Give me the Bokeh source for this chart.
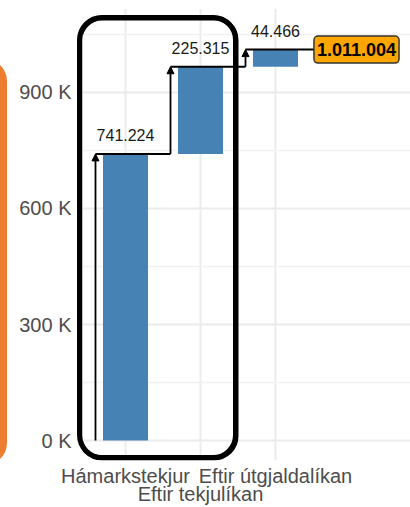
from bokeh.plotting import figure
from bokeh.models import (Range1d, FixedTicker, ColumnDataSource, Arrow, NormalHead,
                          BoxAnnotation, Label, LinearAxis, InlineStyleSheet)
from bokeh.core.properties import value
from bokeh.embed import file_html
from bokeh.resources import INLINE

# ---- data ----
categories = ["Hámarkstekjur", "Eftir tekjulíkan", "Eftir útgjaldalíkan"]
changes = [741224, 225315, 44466]
change_labels = ["741.224", "225.315", "44.466"]
total_label = "1.011.004"
y_ticks = [0, 300000, 600000, 900000]
y_tick_labels = ["0 K", "300 K", "600 K", "900 K"]
y_minor = [150000, 450000, 750000, 1050000]

FONT = "Liberation Sans"
W, H = 410, 507

xs = [1, 2, 3]
bottoms, tops = [], []
run = 0
for c in changes:
    bottoms.append(run)
    run += c
    tops.append(run)
total = tops[-1]

p = figure(width=W, height=H, output_backend="svg", toolbar_location=None,
           x_range=Range1d(0.4267, 4.8), y_range=Range1d(-51700, 1117200),
           min_border_left=82, min_border_right=0, min_border_top=8,
           min_border_bottom=47)
p.outline_line_color = None
p.background_fill_color = "white"
p.border_fill_color = "white"

# highlight frames drawn as page decoration (outside the plot frame)
css = """
:host::before { content: ""; position: absolute; box-sizing: border-box;
  left: 77px; top: 15px; width: 161px; height: 445px;
  border: 5px solid #000000; border-radius: 25px; z-index: 1000; pointer-events: none; }
:host::after { content: ""; position: absolute; box-sizing: border-box;
  left: -40px; top: 58px; width: 47px; height: 408px;
  border: 7px solid #ED7D31; border-radius: 32px; z-index: 1000; pointer-events: none; }
"""
p.stylesheets = [InlineStyleSheet(css=css)]

# grids
p.ygrid.ticker = FixedTicker(ticks=y_ticks, minor_ticks=y_minor)
p.ygrid.grid_line_color = "#ebebeb"
p.ygrid.grid_line_width = 2
p.ygrid.minor_grid_line_color = "#f1f1f1"
p.ygrid.minor_grid_line_width = 1.5
p.xgrid.ticker = FixedTicker(ticks=xs)
p.xgrid.grid_line_color = "#ebebeb"
p.xgrid.grid_line_width = 2


def style_axis(ax, standoff):
    ax.axis_line_color = None
    ax.major_tick_line_color = None
    ax.minor_tick_line_color = None
    ax.major_tick_out = 0
    ax.major_tick_in = 0
    ax.minor_tick_out = 0
    ax.minor_tick_in = 0
    ax.major_label_standoff = standoff
    ax.major_label_text_font = FONT
    ax.major_label_text_font_size = "20px"
    ax.major_label_text_color = "#4d4d4d"


# y axis
p.yaxis.ticker = FixedTicker(ticks=y_ticks)
p.yaxis.major_label_overrides = {t: l for t, l in zip(y_ticks, y_tick_labels)}
style_axis(p.yaxis[0], 11)

# x axis: dodged labels in two rows
p.xaxis.ticker = FixedTicker(ticks=[1, 3])
p.xaxis.major_label_overrides = {1: categories[0], 3: categories[2]}
style_axis(p.xaxis[0], 4)

ax2 = LinearAxis(ticker=FixedTicker(ticks=[2]),
                 major_label_overrides={2: categories[1]})
style_axis(ax2, -7)
p.add_layout(ax2, "below")

# bars
src = ColumnDataSource(dict(x=xs, bottom=bottoms, top=tops))
p.vbar(x="x", width=0.6, bottom="bottom", top="top", source=src,
       fill_color="#4682B4", line_color=None)

# connectors
off = 0.4
seg_x0 = [x - off for x in xs]
seg_x1 = [x - off for x in xs[1:]] + [4.08]
p.segment(x0=seg_x0, y0=tops, x1=seg_x1, y1=tops, line_color="black", line_width=2)
for x, b, t in zip(xs, bottoms, tops):
    p.add_layout(Arrow(x_start=x - off, y_start=b, x_end=x - off, y_end=t,
                       line_color="black", line_width=1.8,
                       end=NormalHead(size=7, fill_color="black", line_color="black", line_width=1)))

# value labels
lab_src = ColumnDataSource(dict(x=xs, y=[t + 48000 for t in tops], text=change_labels))
p.text(x="x", y="y", text="text", source=lab_src, text_align="center",
       text_baseline="middle", text_font=value(FONT), text_font_size="16px",
       text_color="#1a1a1a")

# total label
p.add_layout(Label(x=4.08, y=total, text=total_label, text_align="center",
                   text_baseline="middle", text_font=FONT,
                   text_font_size="18px", text_font_style="bold", text_color="black",
                   background_fill_color="#FFA500", border_line_color="#333333",
                   border_line_width=1.5, padding=(3, 7), border_radius=4))

# black frame also as an annotation (same geometry)
p.add_layout(BoxAnnotation(left=79.5, right=235.5, top=17.5, bottom=457.5,
                           left_units="canvas", right_units="canvas",
                           top_units="canvas", bottom_units="canvas",
                           fill_alpha=0, line_color="black", line_alpha=1.0, line_width=5,
                           border_radius=22, level="overlay"))

open("out.html", "w").write(file_html(p, INLINE))
